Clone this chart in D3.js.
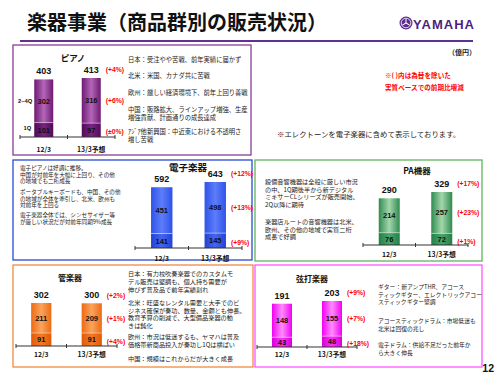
<!DOCTYPE html>
<html>
<head>
<meta charset="utf-8">
<script src="https://cdn.jsdelivr.net/npm/d3@7"></script>
<style>
  body { margin: 0; background: #fff; }
  text { font-family: 'Noto Sans CJK JP', sans-serif; }
  .num { font-family: 'Liberation Sans', Arial, sans-serif; font-weight: bold; }
</style>
</head>
<body>
<div id="chart"></div>
<script>
// data (億円)
const categories = ['12/3', '13/3予想'];

const pianoQ1 = [101, 97];
const pianoRest = [302, 316];
const pianoTotal = [403, 413];
const pianoChange = ['(+4%)', '(+6%)', '(±0%)'];

const elecQ1 = [141, 145];
const elecRest = [451, 498];
const elecTotal = [592, 643];
const elecChange = ['(+12%)', '(+13%)', '(+9%)'];

const paQ1 = [76, 72];
const paRest = [214, 257];
const paTotal = [290, 329];
const paChange = ['(+17%)', '(+23%)', '(+1%)'];

const windQ1 = [91, 91];
const windRest = [211, 209];
const windTotal = [302, 300];
const windChange = ['(+2%)', '(+1%)', '(+4%)'];

const percQ1 = [43, 48];
const percRest = [148, 155];
const percTotal = [191, 203];
const percChange = ['(+9%)', '(+7%)', '(+18%)'];

const pianoNotes = [
  '日本：受注やや苦戦、前年実績に届かず',
  '北米：米国、カナダ共に苦戦',
  '欧州：厳しい経済環境下、前年上回り善戦',
  '中国：販路拡大、ラインアップ増強、生産',
  '増強貢献、計画通りの成長達成',
  'ｱｼﾞｱ他新興国：中近東における不透明さ',
  '増し苦戦',
];
const elecNotes = [
  '電子ピアノは好調に推移。',
  '中国が対前年を大幅に上回り、その他',
  'の地域でも二桁成長',
  'ポータブルキーボードも、中国、その他',
  'の地域が全体を牽引し、北米、欧州も',
  '対前年を上回る',
  '電子楽器全体では、シンセサイザー等',
  'が厳しい状況だが対前年同期9%成長',
];
const paNotes = [
  '設備音響機器は全般に厳しい市況',
  'の中、1Q期後半から新デジタル',
  'ミキサーCLシリーズが販売開始、',
  '2Q以降に期待',
  '楽器店ルートの音響機器は北米、',
  '欧州、その他の地域で実質二桁',
  '成長で好調',
];
const windNotes = [
  '日本：有力校吹奏楽器でのカスタムモ',
  'デル販売は堅調も、個人持ち需要が',
  '伸びず普及品で前年実績割れ',
  '北米：旺盛なレンタル需要と大手でのビ',
  'ジネス確保が奏功、数量、金額とも伸長。',
  '教育予算の削減で、大型備品楽器の動',
  'きは鈍化',
  '欧州：市況は低迷するも、ヤマハは普及',
  '価格帯新商品投入が奏功し1Qは横ばい',
  '中国：規模はこれからだが大きく成長',
];
const percNotes = [
  'ギター：新アンプTHR、アコース',
  'ティックギター、エレクトリックアコー',
  'スティックギター堅調',
  'アコースティックドラム：市場低迷も',
  '北米は回復の兆し',
  '電子ドラム：供給不足だった前年か',
  'ら大きく伸長',
];

const W = 500, H = 375;
const svg = d3.select('#chart').append('svg')
  .attr('width', W)
  .attr('height', H);
const defs = svg.append('defs');

// header
svg.append('text')
  .attr('x', 27).attr('y', 30)
  .attr('font-size', 20).attr('font-weight', 'bold')
  .attr('fill', '#111')
  .text('楽器事業（商品群別の販売状況）');

svg.append('line')
  .attr('x1', 20).attr('x2', 473)
  .attr('y1', 41).attr('y2', 41)
  .attr('stroke', '#5e3290').attr('stroke-width', 2);

// yamaha mark
const logo = svg.append('g').attr('transform', 'translate(406,23)');
logo.append('circle').attr('r', 6.5).attr('fill', '#5b2c8e');
logo.append('circle').attr('r', 4.8).attr('fill', 'none').attr('stroke', '#fff').attr('stroke-width', 0.8);
[0, 120, 240].forEach(function (a) {
  logo.append('line')
    .attr('x1', 0).attr('y1', 0).attr('x2', 0).attr('y2', -4.2)
    .attr('stroke', '#fff').attr('stroke-width', 1)
    .attr('transform', `rotate(${a})`);
});
svg.append('text')
  .attr('class', 'num')
  .attr('x', 413).attr('y', 28.5)
  .attr('font-size', 13)
  .attr('textLength', 61)
  .attr('fill', '#4b1f7f')
  .text('YAMAHA');

svg.append('text')
  .attr('x', 476).attr('y', 55)
  .attr('text-anchor', 'end')
  .attr('font-size', 7).attr('font-weight', 'bold')
  .attr('fill', '#222')
  .text('（億円）');

svg.append('text')
  .attr('x', 385).attr('y', 77.5)
  .attr('font-size', 6.6).attr('font-weight', 'bold')
  .attr('fill', '#ff0000')
  .text('※( )内は為替を除いた');
svg.append('text')
  .attr('x', 385).attr('y', 89.5)
  .attr('font-size', 6.6).attr('font-weight', 'bold')
  .attr('fill', '#ff0000')
  .text('実質ベースでの前期比増減');

svg.append('text')
  .attr('x', 277).attr('y', 137)
  .attr('font-size', 7.4)
  .attr('fill', '#222')
  .text('※エレクトーンを電子楽器に含めて表示しております。');

svg.append('text')
  .attr('class', 'num')
  .attr('x', 494).attr('y', 371.5)
  .attr('text-anchor', 'end')
  .attr('font-size', 10.5)
  .attr('fill', '#111')
  .text('12');

function makeGradient(id, edge, mid) {
  const grad = defs.append('linearGradient')
    .attr('id', id)
    .attr('x1', '0%').attr('x2', '100%')
    .attr('y1', '0%').attr('y2', '0%');
  grad.append('stop').attr('offset', '0%').attr('stop-color', edge);
  grad.append('stop').attr('offset', '50%').attr('stop-color', mid);
  grad.append('stop').attr('offset', '100%').attr('stop-color', edge);
}

function addNotes(lines, x, y0, dy, size) {
  svg.selectAll(null)
    .data(lines)
    .enter()
    .append('text')
    .attr('x', x)
    .attr('y', (d, i) => y0 + i * dy)
    .attr('font-size', size)
    .attr('fill', '#222')
    .text(d => d);
}

function drawPanel(p) {
  const g = svg.append('g');

  g.append('rect')
    .attr('x', p.box[0]).attr('y', p.box[1])
    .attr('width', p.box[2]).attr('height', p.box[3])
    .attr('fill', 'none')
    .attr('stroke', p.border)
    .attr('stroke-width', 1.3);

  g.append('text')
    .attr('x', p.titleX).attr('y', p.titleY)
    .attr('text-anchor', 'middle')
    .attr('font-size', p.titleSize).attr('font-weight', 'bold')
    .attr('fill', '#111')
    .text(p.title);

  makeGradient(p.id + '-rest', p.restColors[0], p.restColors[1]);
  makeGradient(p.id + '-q1', p.q1Colors[0], p.q1Colors[1]);

  const x = d3.scaleBand()
    .domain(categories)
    .range([p.axis[0], p.axis[1]]);
  const y = d3.scaleLinear()
    .domain([0, d3.max(p.total)])
    .range([p.axis[2], p.top]);

  const bw = x.bandwidth() * 0.4;
  const bx = d => x(d) + (x.bandwidth() - bw) / 2;
  const cx = d => x(d) + x.bandwidth() / 2;

  // 2~4Q segment
  g.selectAll('.rest')
    .data(categories)
    .enter()
    .append('rect')
    .attr('x', bx)
    .attr('width', bw)
    .attr('y', (d, i) => y(p.total[i]))
    .attr('height', (d, i) => y(p.q1[i]) - y(p.total[i]))
    .attr('fill', `url(#${p.id}-rest)`);

  // 1Q segment
  g.selectAll('.q1')
    .data(categories)
    .enter()
    .append('rect')
    .attr('x', bx)
    .attr('width', bw)
    .attr('y', (d, i) => y(p.q1[i]))
    .attr('height', (d, i) => y(0) - y(p.q1[i]))
    .attr('fill', `url(#${p.id}-q1)`);

  // thin light line between segments
  g.selectAll('.sep')
    .data(categories)
    .enter()
    .append('line')
    .attr('x1', bx)
    .attr('x2', d => bx(d) + bw)
    .attr('y1', (d, i) => y(p.q1[i]))
    .attr('y2', (d, i) => y(p.q1[i]))
    .attr('stroke', 'rgba(255,255,255,0.55)')
    .attr('stroke-width', 0.8);

  // axis
  g.append('line')
    .attr('x1', p.axis[0]).attr('x2', p.axis[1])
    .attr('y1', y(0)).attr('y2', y(0))
    .attr('stroke', '#333').attr('stroke-width', 1.2);
  g.selectAll('.tick')
    .data(categories.map(d => x(d)).concat([p.axis[1]]))
    .enter()
    .append('line')
    .attr('x1', d => d).attr('x2', d => d)
    .attr('y1', y(0) - 2).attr('y2', y(0) + 2)
    .attr('stroke', '#333').attr('stroke-width', 1);

  g.selectAll('.cat')
    .data(categories)
    .enter()
    .append('text')
    .attr('x', cx)
    .attr('y', y(0) + p.catDy)
    .attr('text-anchor', 'middle')
    .attr('font-size', 6.8).attr('font-weight', 'bold')
    .attr('fill', '#111')
    .text(d => d);

  // value labels
  g.selectAll('.tot')
    .data(categories)
    .enter()
    .append('text')
    .attr('class', 'num')
    .attr('x', cx)
    .attr('y', (d, i) => y(p.total[i]) - 5)
    .attr('text-anchor', 'middle')
    .attr('font-size', 9)
    .attr('fill', '#111')
    .text((d, i) => p.total[i]);

  g.selectAll('.restval')
    .data(categories)
    .enter()
    .append('text')
    .attr('class', 'num')
    .attr('x', cx)
    .attr('y', (d, i) => (y(p.total[i]) + y(p.q1[i])) / 2 + 2.6)
    .attr('text-anchor', 'middle')
    .attr('font-size', 7.5)
    .attr('fill', '#111')
    .text((d, i) => p.rest[i]);

  g.selectAll('.q1val')
    .data(categories)
    .enter()
    .append('text')
    .attr('class', 'num')
    .attr('x', cx)
    .attr('y', (d, i) => (y(p.q1[i]) + y(0)) / 2 + 2.8)
    .attr('text-anchor', 'middle')
    .attr('font-size', 7.5)
    .attr('fill', '#111')
    .text((d, i) => p.q1[i]);

  // growth labels beside the forecast bar
  const last = categories[categories.length - 1];
  const n = categories.length - 1;
  const chX = bx(last) + bw + 5;
  const chY = [
    y(p.total[n]) - 8,
    (y(p.total[n]) + y(p.q1[n])) / 2,
    (y(p.q1[n]) + y(0)) / 2 + 2,
  ];
  g.selectAll('.chg')
    .data(p.change)
    .enter()
    .append('text')
    .attr('class', 'num')
    .attr('x', chX)
    .attr('y', (d, i) => chY[i] + 2.4)
    .attr('font-size', 6.8)
    .attr('fill', '#ff0000')
    .text(d => d);

  if (p.segLabels) {
    const first = categories[0];
    g.append('text')
      .attr('class', 'num')
      .attr('x', bx(first) - 2).attr('y', (y(p.total[0]) + y(p.q1[0])) / 2 + 2)
      .attr('text-anchor', 'end')
      .attr('font-size', 5.8)
      .attr('fill', '#111')
      .text('2~4Q');
    g.append('text')
      .attr('class', 'num')
      .attr('x', bx(first) - 3).attr('y', (y(p.q1[0]) + y(0)) / 2)
      .attr('text-anchor', 'end')
      .attr('font-size', 5.8)
      .attr('fill', '#111')
      .text('1Q');
  }
}

drawPanel({
  id: 'piano', title: 'ピアノ', titleX: 73, titleY: 61, titleSize: 8.5,
  box: [13, 45, 238, 110], border: '#8b3d9b',
  axis: [20, 115, 137], top: 78, catDy: 14.5,
  q1: pianoQ1, rest: pianoRest, total: pianoTotal, change: pianoChange,
  restColors: ['#6e1a72', '#b466b8'], q1Colors: ['#520a58', '#7a2384'],
  segLabels: true,
});

drawPanel({
  id: 'elec', title: '電子楽器', titleX: 188, titleY: 170.5, titleSize: 9.5,
  box: [13, 160, 239, 100], border: '#2a4bd0',
  axis: [135, 242, 248], top: 182, catDy: 12.5,
  q1: elecQ1, rest: elecRest, total: elecTotal, change: elecChange,
  restColors: ['#2f52ea', '#5d7df8'], q1Colors: ['#2342d6', '#4565ee'],
});

drawPanel({
  id: 'pa', title: 'PA機器', titleX: 417, titleY: 174, titleSize: 8.5,
  box: [255, 160, 227, 101], border: '#5fb45f',
  axis: [363, 468, 245], top: 192, catDy: 11.5,
  q1: paQ1, rest: paRest, total: paTotal, change: paChange,
  restColors: ['#2f8c4f', '#a3d6ad'], q1Colors: ['#23804a', '#4aa56a'],
});

drawPanel({
  id: 'wind', title: '管楽器', titleX: 70, titleY: 280.5, titleSize: 8,
  box: [13, 265, 240, 102], border: '#f08a40',
  axis: [16, 117, 346], top: 303, catDy: 10.5,
  q1: windQ1, rest: windRest, total: windTotal, change: windChange,
  restColors: ['#ee6a12', '#f9a45e'], q1Colors: ['#e25a08', '#f27a26'],
});

drawPanel({
  id: 'perc', title: '弦打楽器', titleX: 312, titleY: 282, titleSize: 8,
  box: [255, 265, 227, 102], border: '#ff55ff',
  axis: [257, 357, 347], top: 301, catDy: 9.5,
  q1: percQ1, rest: percRest, total: percTotal, change: percChange,
  restColors: ['#f200f2', '#ff8cff'], q1Colors: ['#d800d8', '#ff30ff'],
});

addNotes(pianoNotes.slice(0, 3), 128, 61.5, 16.5, 6.3);
addNotes(pianoNotes.slice(3, 5), 128, 111.5, 8, 6.3);
addNotes(pianoNotes.slice(5), 128, 133.5, 8, 6.3);

addNotes(elecNotes.slice(0, 3), 20, 169.8, 6.8, 5.6);
addNotes(elecNotes.slice(3, 6), 20, 193.8, 6.8, 5.6);
addNotes(elecNotes.slice(6), 20, 216.8, 6.8, 5.6);

addNotes(paNotes.slice(0, 4), 265, 184.3, 7.5, 6.2);
addNotes(paNotes.slice(4), 265, 224.3, 7.5, 6.2);

addNotes(windNotes.slice(0, 3), 128, 276.3, 7.6, 6.2);
addNotes(windNotes.slice(3, 7), 128, 305, 7.5, 6.2);
addNotes(windNotes.slice(7, 9), 128, 339, 7.6, 6.2);
addNotes(windNotes.slice(9), 128, 360.6, 7.6, 6.2);

addNotes(percNotes.slice(0, 3), 378, 289, 7.5, 5.8);
addNotes(percNotes.slice(3, 5), 378, 323.3, 7.6, 5.8);
addNotes(percNotes.slice(5), 378, 347.3, 7.6, 5.8);
</script>
</body>
</html>
